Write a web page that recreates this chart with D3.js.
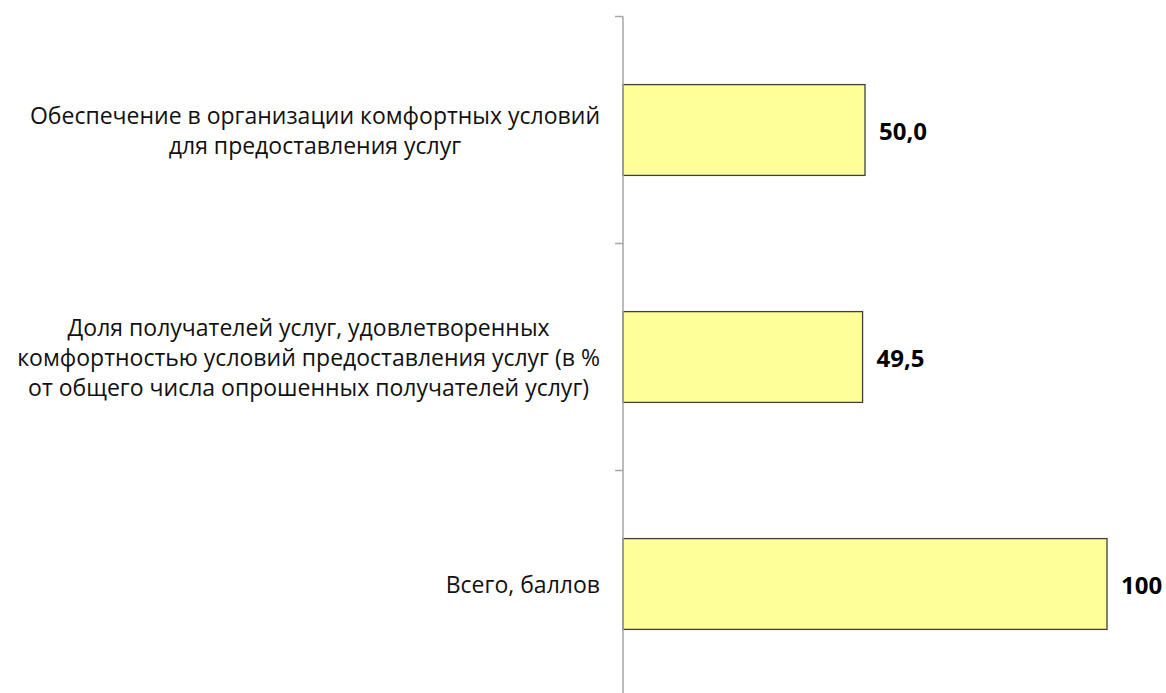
<!DOCTYPE html>
<html>
<head>
<meta charset="utf-8">
<script src="https://cdn.jsdelivr.net/npm/d3@7"></script>
<style>
  html, body { margin: 0; padding: 0; background: #fff; }
  svg { display: block; }
  text { font-family: "Open Sans", "Noto Sans", sans-serif; }
</style>
</head>
<body>
<svg id="chart" width="1166" height="693"></svg>
<script>
const categories = [
  ["Обеспечение в организации комфортных условий", "для предоставления услуг"],
  ["Доля получателей услуг, удовлетворенных", "комфортностью условий предоставления услуг (в %", "от общего числа опрошенных получателей услуг)"],
  ["Всего, баллов"]
];
const values = [50.0, 49.5, 100];
const valueLabels = ["50,0", "49,5", "100"];

const svg = d3.select("#chart");
const x0 = 623;
const x = d3.scaleLinear().domain([0, 100]).range([x0, 1107]);
const y = d3.scaleBand().domain(d3.range(categories.length)).range([16.5, 697.5]).paddingInner(0.6).paddingOuter(0.3);

// bars
svg.selectAll("rect.bar").data(values).join("rect")
  .attr("class", "bar")
  .attr("x", x(0))
  .attr("y", (d, i) => y(i))
  .attr("width", d => x(d) - x(0))
  .attr("height", y.bandwidth())
  .attr("fill", "#ffff99")
  .attr("stroke", "#3f3f3f")
  .attr("stroke-width", 1.3);

// axis line and ticks
const step = y.step();
const ticks = d3.range(categories.length + 1).map(i => 16.5 + i * step);
svg.append("line").attr("x1", x0).attr("x2", x0).attr("y1", 16.5).attr("y2", 697.5)
  .attr("stroke", "#a6a6a6").attr("stroke-width", 1.5);
svg.selectAll("line.tick").data(ticks).join("line").attr("class", "tick")
  .attr("x1", x0 - 8).attr("x2", x0).attr("y1", d => d).attr("y2", d => d)
  .attr("stroke", "#a6a6a6").attr("stroke-width", 1.5);

// category labels
const lineH = 30;
const fs = 23;
categories.forEach((lines, i) => {
  const cy = y(i) + y.bandwidth() / 2;
  const g = svg.append("g");
  const t = g.selectAll("text").data(lines).join("text")
    .attr("font-size", fs)
    .attr("fill", "#111")
    .attr("text-anchor", "middle")
    .attr("dominant-baseline", "central")
    .attr("y", (d, j) => cy + (j - (lines.length - 1) / 2) * lineH)
    .text(d => d);
  let maxW = 0;
  t.each(function() { maxW = Math.max(maxW, this.getComputedTextLength()); });
  t.attr("x", 600 - maxW / 2);
});

// value labels
svg.selectAll("text.val").data(values).join("text")
  .attr("class", "val")
  .attr("x", d => x(d) + 14)
  .attr("y", (d, i) => y(i) + y.bandwidth() / 2)
  .attr("dominant-baseline", "central")
  .attr("font-size", 24)
  .attr("font-weight", "bold")
  .attr("fill", "#000")
  .text((d, i) => valueLabels[i]);
</script>
</body>
</html>
